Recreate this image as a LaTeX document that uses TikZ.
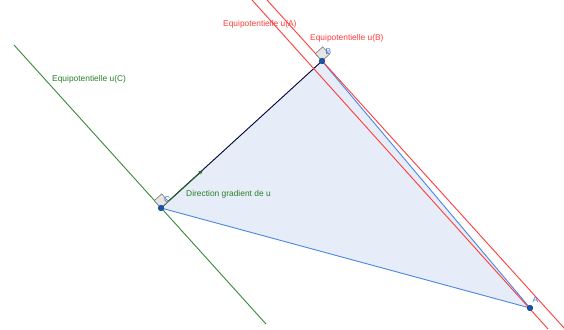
\documentclass[tikz,border=0pt]{standalone}
\usepackage{fontspec}
\setmainfont{Liberation Sans}
\usetikzlibrary{arrows.meta}
\definecolor{eqred}{RGB}{255,60,60}
\definecolor{eqgreen}{RGB}{56,138,56}
\definecolor{txtgreen}{RGB}{40,128,40}
\definecolor{sideblue}{RGB}{74,134,226}
\definecolor{trifill}{RGB}{230,237,248}
\definecolor{ptblue}{RGB}{21,86,180}
\definecolor{lblblue}{RGB}{70,120,210}
\begin{document}
\begin{tikzpicture}[x=1pt, y=-1pt,
    font=\fontsize{8.4}{10}\selectfont,
    ptdot/.style={circle, fill=ptblue, draw=ptblue!60!black, line width=0.5pt, inner sep=0pt, minimum size=5.5pt},
    rangle/.style={draw=black!60, fill=black!10, line width=0.5pt},
    lbl/.style={anchor=base west, inner sep=0pt}]
    \useasboundingbox (0,0) rectangle (564,329);

    % Points of the triangle
    \coordinate (A) at (530,308);
    \coordinate (B) at (322,61);
    \coordinate (C) at (161,208);

    % Ends of the equipotential lines
    \coordinate (uC1) at (14,45);
    \coordinate (uC2) at (266,324);
    \coordinate (uA1) at (252,0);
    \coordinate (uA2) at (548,329);
    \coordinate (uB1) at (267,0);
    \coordinate (uB2) at (565,329);
    \coordinate (grad) at (203,170);

    % Triangle
    \fill[trifill] (A) -- (B) -- (C) -- cycle;
    \draw[sideblue, line width=0.9pt] (C) -- (A) -- (B);
    \draw[black!80!blue, line width=0.9pt] (C) -- (B);

    % Equipotentials
    \draw[eqgreen, line width=0.9pt] (uC1) -- (uC2);
    \draw[eqred, line width=0.9pt] (uA1) -- (uA2);
    \draw[eqred, line width=0.9pt] (uB1) -- (uB2);

    % Gradient direction
    \draw[-{Stealth[length=5pt, width=4pt]}, eqgreen!70!black, line width=1pt] (C) -- (grad);

    % Right angles
    \draw[rangle] (C) -- ++(-6.7,-7.4) -- ++(7.4,-6.7) -- ++(6.7,7.4) -- cycle;
    \draw[rangle] (B) -- ++(-6.7,-7.4) -- ++(7.4,-6.7) -- ++(6.7,7.4) -- cycle;

    % Points
    \node[ptdot] (pA) at (A) {};
    \node[ptdot] (pB) at (B) {};
    \node[ptdot] (pC) at (C) {};

    % Labels
    \node[lbl, lblblue] (lA) at (532.5,302.5) {A};
    \node[lbl, lblblue] (lB) at (325.5,55) {B};
    \node[lbl, lblblue] (lC) at (164,202) {C};
    \node[lbl, eqred] (luA) at (223,27) {Equipotentielle u(A)};
    \node[lbl, eqred] (luB) at (310,41) {Equipotentielle u(B)};
    \node[lbl, txtgreen] (luC) at (52,81) {Equipotentielle u(C)};
    \node[lbl, txtgreen] (lgrad) at (186,196) {Direction gradient de u};
\end{tikzpicture}
\end{document}
